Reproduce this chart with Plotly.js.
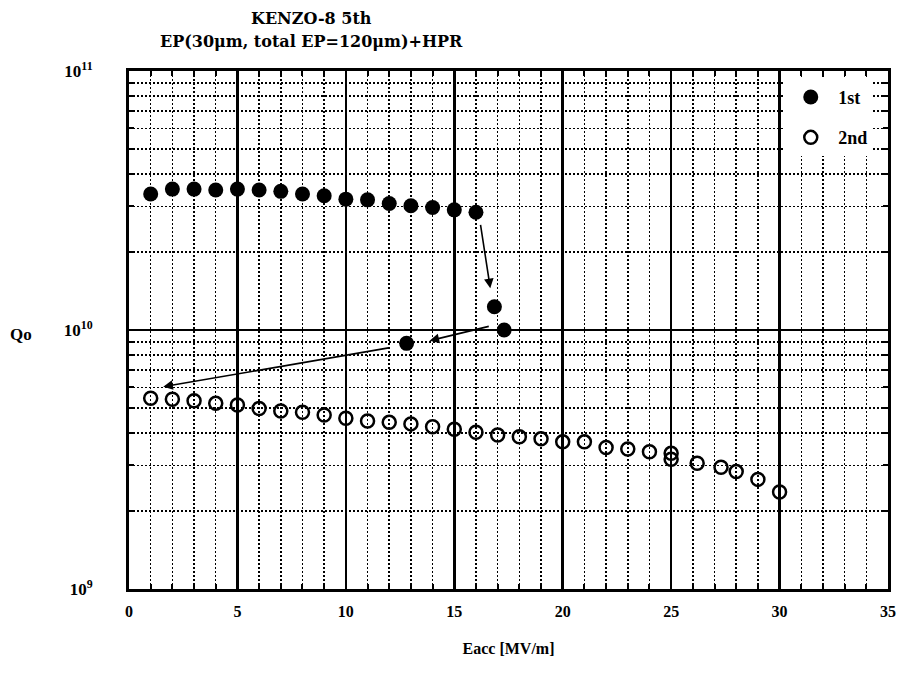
<!DOCTYPE html>
<html>
<head>
<meta charset="utf-8">
<script src="https://cdn.plot.ly/plotly-3.0.1.min.js"></script>
<style>html,body{margin:0;padding:0;background:#fff;}#chart{width:898px;height:688px;}</style>
</head>
<body>
<div id="chart"></div>
<script>
// ---- data ----
const titleLines = ['KENZO-8 5th', 'EP(30\u03bcm, total EP=120\u03bcm)+HPR'];
const xTitle = 'Eacc [MV/m]';
const yTitle = 'Qo';
const seriesNames = ['1st', '2nd'];

const eacc1st = [1, 2, 3, 4, 5, 6, 7, 8, 9, 10, 11, 12, 13, 14, 15, 16, 16.85, 17.3, 12.8];
const q1st = [3.35e10, 3.50e10, 3.50e10, 3.47e10, 3.50e10, 3.47e10, 3.43e10, 3.35e10, 3.30e10,
              3.20e10, 3.18e10, 3.08e10, 3.02e10, 2.97e10, 2.91e10, 2.85e10, 1.23e10, 1.00e10, 0.888e10];

const eacc2nd = [1, 2, 3, 4, 5, 6, 7, 8, 9, 10, 11, 12, 13, 14, 15, 16, 17, 18, 19, 20,
                 21, 22, 23, 24, 25, 25, 26.2, 27.3, 28, 29, 30];
const q2nd = [0.545e10, 0.540e10, 0.533e10, 0.521e10, 0.513e10, 0.498e10, 0.487e10, 0.481e10,
              0.470e10, 0.456e10, 0.445e10, 0.440e10, 0.434e10, 0.423e10, 0.414e10, 0.403e10,
              0.393e10, 0.387e10, 0.380e10, 0.370e10, 0.370e10, 0.352e10, 0.347e10, 0.339e10,
              0.334e10, 0.317e10, 0.306e10, 0.295e10, 0.284e10, 0.265e10, 0.237e10];

// arrows (tail -> head) in data units
const arrowTailX = [16.2, 16.66, 12.04];
const arrowTailQ = [2.58e10, 1.036e10, 0.855e10];
const arrowHeadX = [16.66, 13.86, 1.58];
const arrowHeadQ = [1.45e10, 0.909e10, 0.604e10];

const xTickVals = [0, 5, 10, 15, 20, 25, 30, 35];
const xTickText = ['0', '5', '10', '15', '20', '25', '30', '35'];
const yTickVals = [1e9, 1e10, 1e11];
const yTickText = ['10<sup>9</sup>', '10<sup>10</sup>', '10<sup>11</sup>'];

// ---- chart ----
const serif = 'Liberation Serif, Times New Roman, serif';
const fontB = (s) => ({family: serif, size: s, color: '#000', weight: 'bold'});
const titleFont = {family: 'DejaVu Serif, serif', size: 16, color: '#000', weight: 'bold'};

const traces = [
  {x: eacc1st, y: q1st, name: seriesNames[0], type: 'scatter', mode: 'markers',
   legendgroup: 'a',
   marker: {symbol: 'circle', size: 15, color: '#000', line: {width: 0}}},
  {x: eacc2nd, y: q2nd, name: seriesNames[1], type: 'scatter', mode: 'markers',
   legendgroup: 'b',
   marker: {symbol: 'circle-open', size: 13, color: '#000', line: {width: 2.5, color: '#000'}}}
];

const annotations = arrowTailX.map((_, i) => ({
  x: arrowHeadX[i], y: Math.log10(arrowHeadQ[i]), xref: 'x', yref: 'y',
  ax: arrowTailX[i], ay: Math.log10(arrowTailQ[i]), axref: 'x', ayref: 'y',
  showarrow: true, arrowhead: 2, arrowsize: 1.2, arrowwidth: 1.6, arrowcolor: '#000', text: ''
}));
annotations.push({
  text: yTitle, xref: 'paper', yref: 'y', x: -0.142, y: 10, yshift: -4,
  showarrow: false, font: fontB(17), xanchor: 'center', yanchor: 'middle'
});
// two-line chart title
const titleY = [1.1023, 1.0579];
titleLines.forEach((t, i) => annotations.push({
  text: t, xref: 'paper', yref: 'paper', x: (311 - 129) / 759, y: titleY[i],
  xanchor: 'center', yanchor: 'middle', showarrow: false, font: titleFont
}));

const layout = {
  width: 898, height: 688,
  paper_bgcolor: '#fff', plot_bgcolor: '#fff',
  margin: {l: 129, r: 10, t: 71, b: 99},
  showlegend: true,
  legend: {x: 0.862, y: 0.985, xanchor: 'left', yanchor: 'top', bgcolor: '#fff',
           borderwidth: 0, font: fontB(18), traceorder: 'grouped', tracegroupgap: 14,
           itemwidth: 45},
  xaxis: {
    range: [0, 35], tickvals: xTickVals, ticktext: xTickText,
    ticks: 'inside', ticklen: 6, tickwidth: 2.5, tickcolor: '#000',
    showline: true, linewidth: 3, linecolor: '#000', mirror: 'ticks',
    showgrid: true, gridcolor: '#000', gridwidth: 2.5,
    zeroline: false, tickfont: fontB(16), ticklabelstandoff: 6,
    minor: {dtick: 1, ticks: 'inside', ticklen: 5, tickwidth: 2, tickcolor: '#000',
            showgrid: true, gridcolor: '#000', gridwidth: 1.5, griddash: '2px,2px'},
    title: {text: xTitle, font: fontB(16), standoff: 24}
  },
  yaxis: {
    type: 'log', range: [9, 11], tickvals: yTickVals, ticktext: yTickText,
    ticks: 'inside', ticklen: 6, tickwidth: 2.5, tickcolor: '#000',
    showline: true, linewidth: 3, linecolor: '#000', mirror: 'ticks',
    showgrid: true, gridcolor: '#000', gridwidth: 2.5,
    zeroline: false, tickfont: fontB(17), ticklabelstandoff: 30,
    minor: {dtick: 'D1', ticks: 'inside', ticklen: 5, tickwidth: 2, tickcolor: '#000',
            showgrid: true, gridcolor: '#000', gridwidth: 1.5, griddash: '2px,2px'}
  },
  annotations: annotations
};

Plotly.newPlot('chart', traces, layout, {displayModeBar: false, staticPlot: true});
</script>
</body>
</html>
